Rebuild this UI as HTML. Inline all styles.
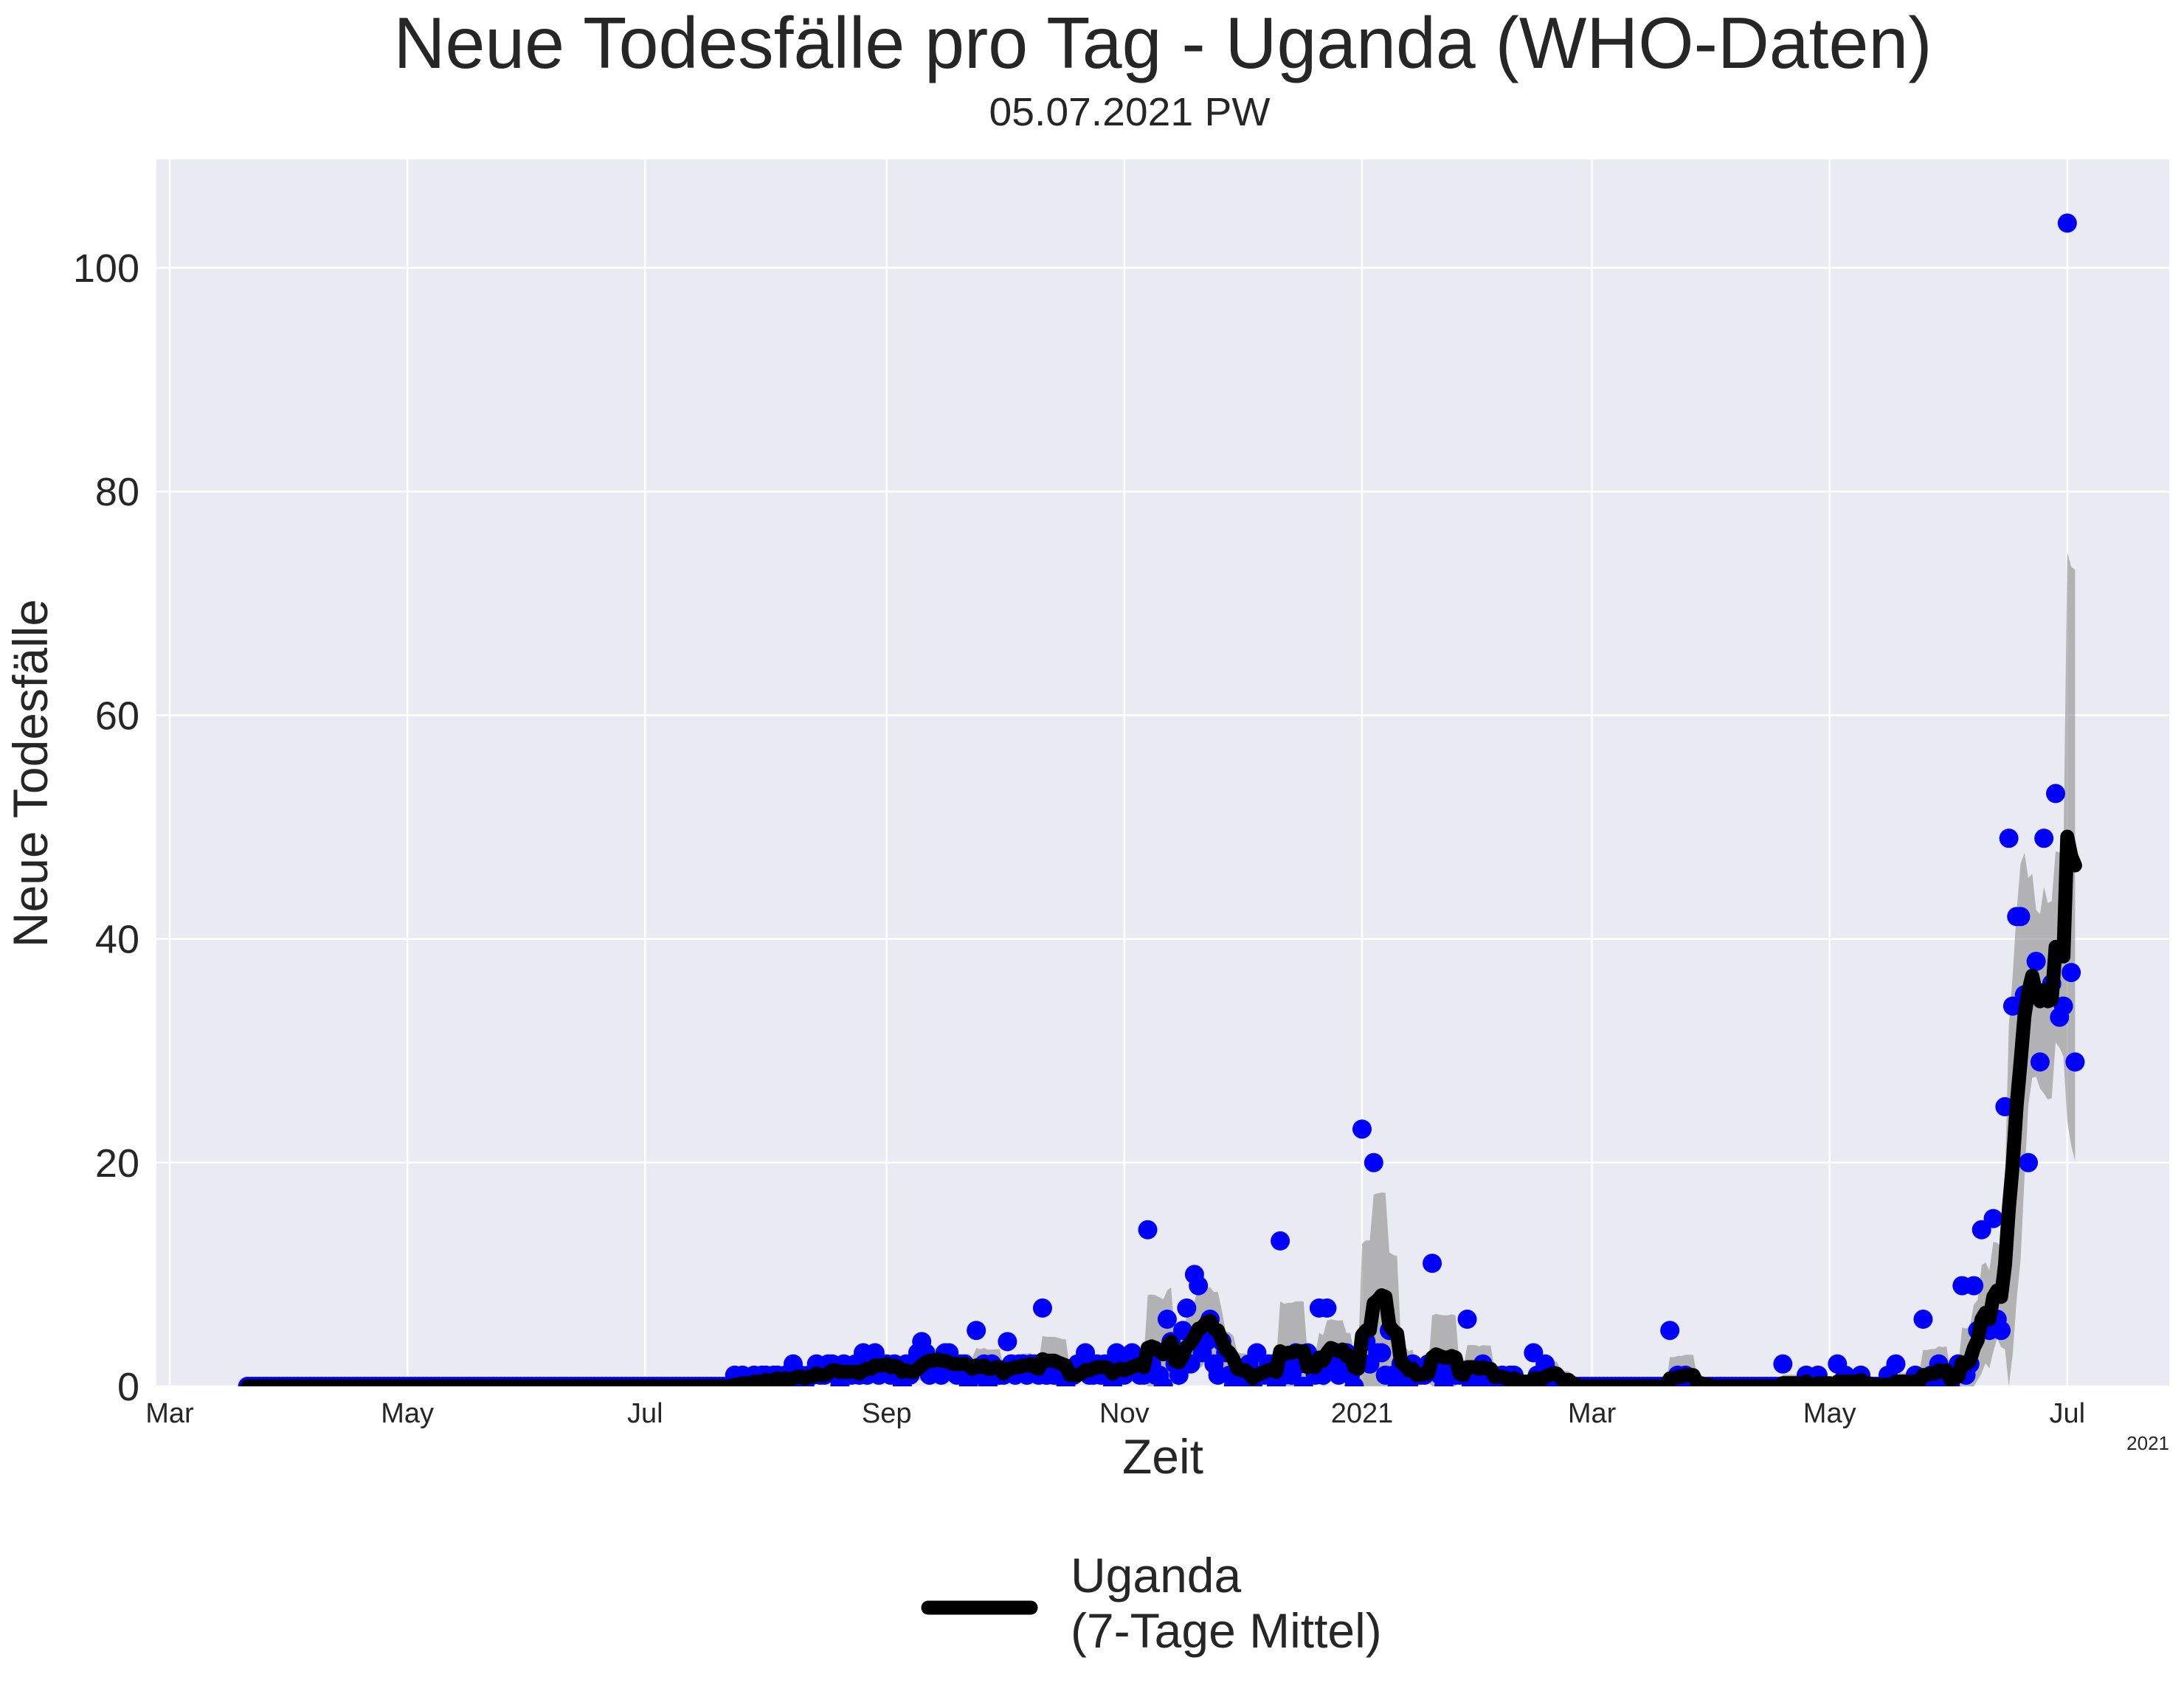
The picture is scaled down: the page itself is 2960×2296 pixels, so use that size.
<!DOCTYPE html>
<html><head><meta charset="utf-8"><style>
html,body{margin:0;padding:0;background:#fff}
svg{display:block}
text{font-family:"Liberation Sans",sans-serif;fill:#262626}
</style></head><body>
<svg id="chart" width="2960" height="2296" viewBox="0 0 2960 2296" xmlns="http://www.w3.org/2000/svg">
<text x="1576" y="92" font-size="98" text-anchor="middle" textLength="2085" lengthAdjust="spacingAndGlyphs">Neue Todesfälle pro Tag - Uganda (WHO-Daten)</text>
<text x="1531" y="170" font-size="54" text-anchor="middle" textLength="381" lengthAdjust="spacingAndGlyphs">05.07.2021 PW</text>
<rect x="212" y="216" width="2728" height="1663" fill="#EAEAF2"/>
<g id="grid"></g>
<g id="band"></g>
<g id="dots"></g>
<g id="line"></g>
<g id="axes"></g>
<text transform="translate(64,1048) rotate(-90)" font-size="66" text-anchor="middle">Neue Todesfälle</text>
<text x="1576" y="1997" font-size="66" text-anchor="middle">Zeit</text>
<text x="2940" y="1965" font-size="26" text-anchor="end">2021</text>
<g>
<line x1="1258" y1="2179" x2="1397" y2="2179" stroke="#000" stroke-width="19" stroke-linecap="round"/>
<text x="1451" y="2158" font-size="66">Uganda</text>
<text x="1451" y="2233" font-size="66">(7-Tage Mittel)</text>
</g>
</svg>
<script>
// daily deaths starting 2020-03-21
const startDate = "2020-03-21";
const dailyDeaths = [
0,0,0,0,0,0,0,0,0,0,0,
0,0,0,0,0,0,0,0,0,0,0,0,0,0,0,0,0,0,0,0,0,0,0,0,0,0,0,0,0,0,
0,0,0,0,0,0,0,0,0,0,0,0,0,0,0,0,0,0,0,0,0,0,0,0,0,0,0,0,0,0,0,
0,0,0,0,0,0,0,0,0,0,0,0,0,0,0,0,0,0,0,0,0,0,0,0,0,0,0,0,0,0,
0,0,0,0,0,0,0,0,0,0,0,0,0,0,0,0,0,0,0,0,0,0,0,1,0,1,0,0,1,0,1,
1,0,1,1,0,1,0,2,1,1,0,1,1,2,1,1,2,2,1,0,2,1,1,2,1,3,1,2,3,1,2,
2,1,2,1,0,2,1,2,3,4,3,1,2,2,1,3,3,2,1,2,2,0,1,5,1,2,0,2,1,1,
1,4,2,1,2,2,1,2,2,1,7,1,2,1,1,1,0,1,1,2,2,3,1,1,2,1,2,1,0,3,2,
1,2,3,2,1,1,14,2,1,1,0,6,4,2,1,5,7,2,10,9,3,4,6,2,1,4,3,1,0,0,
1,1,2,0,3,1,1,2,2,0,13,1,2,1,3,2,0,3,2,1,7,1,7,3,2,1,2,3,1,0,2,
23,4,2,20,3,3,1,5,1,0,2,1,0,2,1,1,1,2,11,2,1,0,1,2,1,1,1,6,0,1,1,
2,0,1,1,0,1,0,1,1,0,0,0,0,3,1,0,2,1,1,0,0,0,0,0,0,0,0,0,
0,0,0,0,0,0,0,0,0,0,0,0,0,0,0,0,0,0,0,0,5,0,1,0,1,0,0,0,0,0,0,
0,0,0,0,0,0,0,0,0,0,0,0,0,0,0,0,0,0,2,0,0,0,0,0,1,0,0,1,0,0,
0,0,2,0,1,0,0,0,1,0,0,0,0,0,0,1,0,2,0,0,0,0,1,0,6,0,1,0,2,0,1,
0,1,2,9,1,2,9,5,14,6,5,15,6,5,25,49,34,42,42,35,20,35,38,29,49,35,36,53,33,34,
104,37,29
];
const yTicks = [0,20,40,60,80,100];
const xTickDates = ["2020-03-01","2020-05-01","2020-07-01","2020-09-01","2020-11-01","2021-01-01","2021-03-01","2021-05-01","2021-07-01"];
const xTickLabels = ["Mar","May","Jul","Sep","Nov","2021","Mar","May","Jul"];

const NS="http://www.w3.org/2000/svg";
const PL=212,PR=2940,PT=216,PB=1879;
const X0=Date.parse("2020-03-01"), PXD=5.281, XBASE=230;
const YMAX=109.7;
function xDay(ms){return XBASE+(ms-X0)/86400000*PXD;}
function yv(v){return PB-(v/YMAX)*(PB-PT);}
function mk(tag,parent,attrs){const e=document.createElementNS(NS,tag);for(const k in attrs)e.setAttribute(k,attrs[k]);parent.appendChild(e);return e;}
const S=Date.parse(startDate);
function dx(i){return xDay(S+i*86400000);}

const grid=document.getElementById('grid'), axes=document.getElementById('axes');
yTicks.forEach(t=>{
  const l=mk('line',grid,{x1:PL,x2:PR,y1:yv(t),y2:yv(t),stroke:'#fff','stroke-width':2.5});
  
  
  const tx=mk('text',axes,{x:189,y:yv(t)+19,'font-size':54,'text-anchor':'end'});
  tx.textContent=t;
  
  
});
xTickDates.forEach((d,i)=>{
  const x=xDay(Date.parse(d));
  const l=mk('line',grid,{x1:x,x2:x,y1:PT,y2:PB,stroke:'#fff','stroke-width':2.5});
  
  
  const tx=mk('text',axes,{x:x,y:1928,'font-size':38,'text-anchor':'middle'});
  tx.textContent=xTickLabels[i];
  
  
});

const mean=[],sd=[];
for(let i=0;i<dailyDeaths.length;i++){
  const w=dailyDeaths.slice(Math.max(0,i-6),i+1);
  const m=w.reduce((a,b)=>a+b,0)/w.length;
  const v=w.length>1?w.reduce((a,b)=>a+(b-m)*(b-m),0)/(w.length-1):0;
  mean.push(m);sd.push(Math.sqrt(v));
}
const clipY=v=>yv(Math.max(0,v));
let up='',lo='';
for(let i=0;i<mean.length;i++){up+=(i?'L':'M')+dx(i).toFixed(1)+','+clipY(mean[i]+sd[i]).toFixed(1);}
for(let i=mean.length-1;i>=0;i--){lo+='L'+dx(i).toFixed(1)+','+clipY(mean[i]-sd[i]).toFixed(1);}
const band=mk('path',document.getElementById('band'),{d:up+lo+'Z',fill:'#8c8c8c','fill-opacity':0.6});



const dots=document.getElementById('dots');
dailyDeaths.forEach((v,i)=>{
  const c=mk('circle',dots,{cx:dx(i),cy:yv(v),r:13,fill:'#0000ff'});
  
  
});
let d='';
mean.forEach((m,i)=>{d+=(i?'L':'M')+dx(i).toFixed(1)+','+yv(m).toFixed(1);});
const clip=mk('clipPath',document.getElementById('chart'),{id:'pc'});
mk('rect',clip,{x:PL,y:PT,width:PR-PL,height:PB-PT});
const ln=mk('path',document.getElementById('line'),{d:d,fill:'none',stroke:'#000','stroke-width':19,'stroke-linejoin':'round','stroke-linecap':'round','clip-path':'url(#pc)'});


dots.setAttribute('clip-path','url(#pc)');
</script>
</body></html>
